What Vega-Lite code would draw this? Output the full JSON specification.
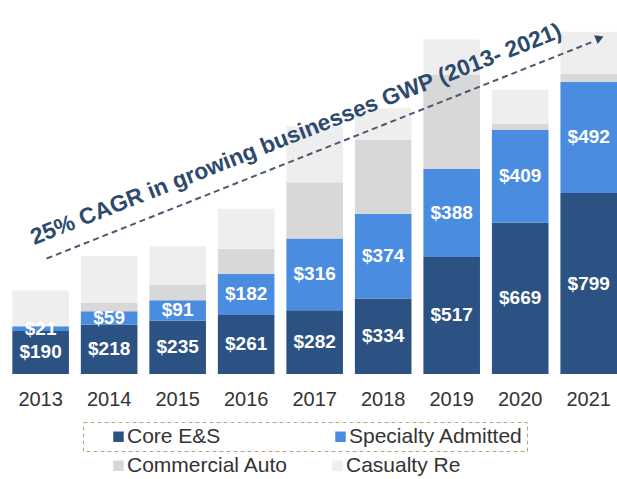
{
  "$schema": "https://vega.github.io/schema/vega-lite/v6.json",
  "width": 617,
  "height": 374,
  "padding": 0,
  "background": "white",
  "config": {"view": {"stroke": null}, "font": "Liberation Sans", "legend": {"strokeDash": [4, 3]}},
  "datasets": {
    "gwp": [
      {"year": "2013", "series": "Core E&S", "rank": 1, "value": 190},
      {"year": "2013", "series": "Specialty Admitted", "rank": 2, "value": 21},
      {"year": "2013", "series": "Commercial Auto", "rank": 3, "value": 0},
      {"year": "2013", "series": "Casualty Re", "rank": 4, "value": 158},
      {"year": "2014", "series": "Core E&S", "rank": 1, "value": 218},
      {"year": "2014", "series": "Specialty Admitted", "rank": 2, "value": 59},
      {"year": "2014", "series": "Commercial Auto", "rank": 3, "value": 37},
      {"year": "2014", "series": "Casualty Re", "rank": 4, "value": 206},
      {"year": "2015", "series": "Core E&S", "rank": 1, "value": 235},
      {"year": "2015", "series": "Specialty Admitted", "rank": 2, "value": 91},
      {"year": "2015", "series": "Commercial Auto", "rank": 3, "value": 69},
      {"year": "2015", "series": "Casualty Re", "rank": 4, "value": 169},
      {"year": "2016", "series": "Core E&S", "rank": 1, "value": 261},
      {"year": "2016", "series": "Specialty Admitted", "rank": 2, "value": 182},
      {"year": "2016", "series": "Commercial Auto", "rank": 3, "value": 110},
      {"year": "2016", "series": "Casualty Re", "rank": 4, "value": 177},
      {"year": "2017", "series": "Core E&S", "rank": 1, "value": 282},
      {"year": "2017", "series": "Specialty Admitted", "rank": 2, "value": 316},
      {"year": "2017", "series": "Commercial Auto", "rank": 3, "value": 249},
      {"year": "2017", "series": "Casualty Re", "rank": 4, "value": 246},
      {"year": "2018", "series": "Core E&S", "rank": 1, "value": 334},
      {"year": "2018", "series": "Specialty Admitted", "rank": 2, "value": 374},
      {"year": "2018", "series": "Commercial Auto", "rank": 3, "value": 326},
      {"year": "2018", "series": "Casualty Re", "rank": 4, "value": 140},
      {"year": "2019", "series": "Core E&S", "rank": 1, "value": 517},
      {"year": "2019", "series": "Specialty Admitted", "rank": 2, "value": 388},
      {"year": "2019", "series": "Commercial Auto", "rank": 3, "value": 418},
      {"year": "2019", "series": "Casualty Re", "rank": 4, "value": 155},
      {"year": "2020", "series": "Core E&S", "rank": 1, "value": 669},
      {"year": "2020", "series": "Specialty Admitted", "rank": 2, "value": 409},
      {"year": "2020", "series": "Commercial Auto", "rank": 3, "value": 26},
      {"year": "2020", "series": "Casualty Re", "rank": 4, "value": 152},
      {"year": "2021", "series": "Core E&S", "rank": 1, "value": 799},
      {"year": "2021", "series": "Specialty Admitted", "rank": 2, "value": 492},
      {"year": "2021", "series": "Commercial Auto", "rank": 3, "value": 34},
      {"year": "2021", "series": "Casualty Re", "rank": 4, "value": 187}
    ],
    "arrow": [
      {"year": "2013", "v": 510},
      {"year": "2021", "v": 1471}
    ],
    "head": [
      {"year": "2021", "v": 1484}
    ],
    "note": [
      {"year": "2017", "v": 1030, "caption": "25% CAGR in growing businesses GWP (2013- 2021)"}
    ]
  },
  "resolve": {"scale": {"color": "independent"}},
  "layer": [
    {
      "data": {"name": "gwp"},
      "mark": {"type": "bar"},
      "encoding": {
        "x": {
          "field": "year", "type": "ordinal",
          "scale": {"paddingInner": 0.174, "paddingOuter": 0.09, "align": 1, "round": false},
          "axis": {"title": null, "ticks": false, "domain": false, "labelAngle": 0, "labelFontSize": 20, "labelColor": "#333333", "labelFont": "Liberation Sans", "labelPadding": 15}
        },
        "y": {
          "field": "value", "type": "quantitative", "stack": "zero",
          "scale": {"domain": [0, 1652], "nice": false},
          "axis": null
        },
        "color": {
          "field": "series", "type": "nominal",
          "scale": {
            "domain": ["Core E&S", "Specialty Admitted", "Commercial Auto", "Casualty Re"],
            "range": ["#2b5283", "#4a8de0", "#d8d8d8", "#eeeeee"]
          },
          "legend": null
        },
        "order": {"field": "rank", "type": "quantitative"}
      }
    },
    {
      "data": {"name": "gwp"},
      "transform": [{"filter": "datum.rank <= 2"}],
      "mark": {"type": "bar", "opacity": 0},
      "encoding": {
        "x": {"field": "year", "type": "ordinal"},
        "y": {"field": "value", "type": "quantitative", "stack": "zero"},
        "color": {
          "field": "series", "type": "nominal",
          "scale": {"domain": ["Core E&S", "Specialty Admitted"], "range": ["#2b5283", "#4a8de0"]},
          "legend": {
            "title": null, "orient": "none", "direction": "horizontal",
            "legendX": 83, "legendY": 422, "padding": 4,
            "strokeColor": "#bba67c",
            "symbolType": "square", "symbolSize": 110, "symbolOpacity": 1, "symbolStrokeWidth": 0,
            "symbolOffset": 21, "labelOffset": -2, "columnPadding": 88,
            "labelFontSize": 21, "labelFont": "Liberation Sans", "labelColor": "#333333", "labelLimit": 400,
            "labelExpr": "datum.label == 'Specialty Admitted' ? datum.label + '\u00a0\u00a0\u00a0\u00a0' : datum.label"
          }
        },
        "order": {"field": "rank", "type": "quantitative"}
      }
    },
    {
      "data": {"name": "gwp"},
      "transform": [{"filter": "datum.rank >= 3"}],
      "mark": {"type": "bar", "opacity": 0},
      "encoding": {
        "x": {"field": "year", "type": "ordinal"},
        "y": {"field": "value", "type": "quantitative", "stack": "zero"},
        "color": {
          "field": "series", "type": "nominal",
          "scale": {"domain": ["Commercial Auto", "Casualty Re"], "range": ["#d8d8d8", "#eeeeee"]},
          "legend": {
            "title": null, "orient": "none", "direction": "horizontal",
            "legendX": 108, "legendY": 455, "padding": 0,
            "symbolType": "square", "symbolSize": 110, "symbolOpacity": 1, "symbolStrokeWidth": 0,
            "labelOffset": -2, "columnPadding": 38,
            "labelFontSize": 21, "labelFont": "Liberation Sans", "labelColor": "#333333", "labelLimit": 400
          }
        },
        "order": {"field": "rank", "type": "quantitative"}
      }
    },
    {
      "data": {"name": "gwp"},
      "transform": [{"filter": "datum.rank <= 2"}],
      "mark": {"type": "text", "color": "white", "fontSize": 19, "fontWeight": "bold", "font": "Liberation Sans", "align": "center", "baseline": "middle"},
      "encoding": {
        "x": {"field": "year", "type": "ordinal"},
        "y": {"field": "value", "type": "quantitative", "stack": "zero", "bandPosition": 0.5},
        "detail": {"field": "series", "type": "nominal"},
        "order": {"field": "rank", "type": "quantitative"},
        "text": {"field": "value", "type": "quantitative", "format": "$,.0f"}
      }
    },
    {
      "data": {"name": "arrow"},
      "mark": {"type": "line", "strokeDash": [6, 4], "strokeWidth": 2, "color": "#4a5a70", "xOffset": 6},
      "encoding": {
        "x": {"field": "year", "type": "ordinal"},
        "y": {"field": "v", "type": "quantitative"}
      }
    },
    {
      "data": {"name": "head"},
      "mark": {"type": "point", "shape": "triangle-right", "filled": true, "size": 90, "angle": -22, "color": "#2f4766", "opacity": 1, "xOffset": 11},
      "encoding": {
        "x": {"field": "year", "type": "ordinal"},
        "y": {"field": "v", "type": "quantitative"}
      }
    },
    {
      "data": {"name": "note"},
      "mark": {"type": "text", "fontSize": 22.8, "fontWeight": "bold", "font": "Liberation Sans", "color": "#2d4a6e", "angle": -21.5, "align": "center", "baseline": "alphabetic", "xOffset": -16},
      "encoding": {
        "x": {"field": "year", "type": "ordinal"},
        "y": {"field": "v", "type": "quantitative"},
        "text": {"field": "caption", "type": "nominal"}
      }
    }
  ]
}
